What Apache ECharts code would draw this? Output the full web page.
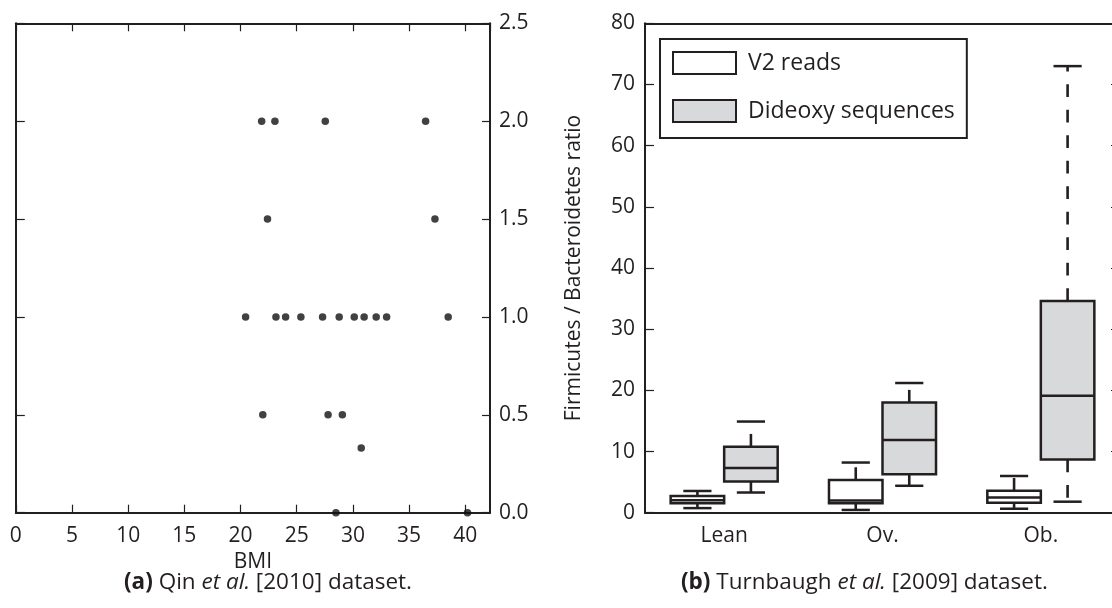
<!DOCTYPE html>
<html>
<head>
<meta charset="utf-8">
<script src="https://cdn.jsdelivr.net/npm/echarts@6/dist/echarts.min.js"></script>
<style>
  html, body { margin: 0; padding: 0; background: #ffffff; }
  #chart { width: 1112px; height: 608px; }
</style>
</head>
<body>
<div id="chart"></div>
<script>
// ---- Panel (a): Qin et al. 2010, F/B ratio against BMI ----
const bmiValues = [
  21.88, 23.06, 27.54, 36.47,
  22.4, 37.3,
  20.45, 23.15, 24.01, 25.37, 27.3, 28.78, 30.12, 31.0, 32.07, 33.0, 38.48,
  21.98, 27.79, 29.06,
  30.74,
  28.49, 40.2
];
const ratioValues = [
  2.0, 2.0, 2.0, 2.0,
  1.5, 1.5,
  1.0, 1.0, 1.0, 1.0, 1.0, 1.0, 1.0, 1.0, 1.0, 1.0, 1.0,
  0.5, 0.5, 0.5,
  0.33,
  0.0, 0.0
];

// ---- Panel (b): Turnbaugh et al. 2009, box plots per BMI class ----
const categories = ['Lean', 'Ov.', 'Ob.'];
const v2Low      = [0.75, 0.45, 0.65];
const v2Q1       = [1.55, 1.55, 1.62];
const v2Median   = [2.05, 2.0, 2.5];
const v2Q3       = [2.75, 5.35, 3.6];
const v2High     = [3.55, 8.2, 6.0];
const dideoxyLow    = [3.3, 4.4, 1.8];
const dideoxyQ1     = [5.1, 6.3, 8.7];
const dideoxyMedian = [7.3, 11.9, 19.1];
const dideoxyQ3     = [10.8, 18.0, 34.6];
const dideoxyHigh   = [14.9, 21.2, 73.0];

const INK = '#231f20';
const GRAY_FILL = '#d8d9da';
const FONT = '"Open Sans", "Noto Sans", sans-serif';
const FS = 21;
const CAPTION_FS = 22.5;
const BOX_WIDTH_FRAC = 0.338;
const CAP_WIDTH_FRAC = 0.178;

const scatterData = bmiValues.map((b, i) => [b, ratioValues[i]]);
function boxRows(low, q1, med, q3, high) {
  return categories.map((c, i) => [i, low[i], q1[i], med[i], q3[i], high[i]]);
}

// Draws one box-and-whisker per category; side = -1 (left of centre) or +1 (right).
function boxRenderer(side, fill) {
  return function (params, api) {
    const c = api.value(0);
    const band = api.size([1, 0])[0];
    const w = band * BOX_WIDTH_FRAC;
    const cap = band * CAP_WIDTH_FRAC;
    const cx = api.coord([c, 0])[0] + side * w / 2;
    const y = (k) => api.coord([c, api.value(k)])[1];
    const yLow = y(1), yQ1 = y(2), yMed = y(3), yQ3 = y(4), yHigh = y(5);
    const solid = { stroke: INK, lineWidth: 2.5 };
    const dashed = { stroke: INK, lineWidth: 2.6, lineDash: [12.7, 12.8] };
    return {
      type: 'group',
      children: [
        { type: 'line', shape: { x1: cx, y1: yQ3, x2: cx, y2: yHigh }, style: dashed },
        { type: 'line', shape: { x1: cx, y1: yQ1, x2: cx, y2: yLow }, style: dashed },
        { type: 'line', shape: { x1: cx - cap / 2, y1: yHigh, x2: cx + cap / 2, y2: yHigh }, style: solid },
        { type: 'line', shape: { x1: cx - cap / 2, y1: yLow, x2: cx + cap / 2, y2: yLow }, style: solid },
        { type: 'rect', shape: { x: cx - w / 2, y: yQ3, width: w, height: yQ1 - yQ3 },
          style: { fill: fill, stroke: INK, lineWidth: 2.5 } },
        { type: 'line', shape: { x1: cx - w / 2, y1: yMed, x2: cx + w / 2, y2: yMed }, style: solid }
      ]
    };
  };
}

const frameLine = { show: true, onZero: false, lineStyle: { color: INK, width: 2 } };
const innerTick = (len) => ({ show: true, inside: true, length: len, lineStyle: { color: INK, width: 1.2 } });
const labelStyle = { color: INK, fontFamily: FONT, fontSize: FS };
const captionStyle = {
  fontFamily: FONT, fontSize: CAPTION_FS, fontWeight: 'normal', color: INK,
  rich: {
    b: { fontFamily: FONT, fontSize: CAPTION_FS, fontWeight: 'bold', color: INK },
    i: { fontFamily: FONT, fontSize: CAPTION_FS, fontStyle: 'italic', color: INK }
  }
};

const option = {
  backgroundColor: '#ffffff',
  animation: false,
  textStyle: { fontFamily: FONT, color: INK },
  grid: [
    { left: 15.8, top: 23.3, width: 474.2, height: 489.4, outerBoundsMode: 'none', containLabel: false },
    { left: 645, top: 23.3, width: 475, height: 489.4, outerBoundsMode: 'none', containLabel: false }
  ],
  xAxis: [
    { type: 'value', gridIndex: 0, min: 0, max: 42.2, interval: 5, position: 'bottom',
      axisLine: frameLine, axisTick: innerTick(8), splitLine: { show: false },
      axisLabel: Object.assign({ margin: 13 }, labelStyle),
      name: 'BMI', nameLocation: 'middle', nameGap: 39, nameTextStyle: labelStyle },
    { type: 'value', gridIndex: 0, min: 0, max: 42.2, interval: 5, position: 'top',
      axisLine: frameLine, axisTick: innerTick(8), axisLabel: { show: false }, splitLine: { show: false } },
    { type: 'category', gridIndex: 1, data: categories, position: 'bottom',
      axisLine: frameLine, axisTick: { show: false }, splitLine: { show: false },
      axisLabel: Object.assign({ margin: 13 }, labelStyle) },
    { type: 'category', gridIndex: 1, data: categories, position: 'top',
      axisLine: frameLine, axisTick: { show: false }, axisLabel: { show: false }, splitLine: { show: false } }
  ],
  yAxis: [
    { type: 'value', gridIndex: 0, min: 0, max: 2.5, interval: 0.5, position: 'left',
      axisLine: frameLine, axisTick: innerTick(9), axisLabel: { show: false }, splitLine: { show: false } },
    { type: 'value', gridIndex: 0, min: 0, max: 2.5, interval: 0.5, position: 'right',
      axisLine: frameLine, axisTick: innerTick(8), splitLine: { show: false },
      axisLabel: Object.assign({ margin: 9, formatter: (v) => v.toFixed(1) }, labelStyle),
      name: 'Firmicutes / Bacteroidetes ratio', nameLocation: 'middle', nameGap: 74,
      nameTextStyle: labelStyle },
    { type: 'value', gridIndex: 1, min: 0, max: 80, interval: 10, position: 'left',
      axisLine: frameLine, axisTick: innerTick(9), splitLine: { show: false },
      axisLabel: Object.assign({ margin: 10 }, labelStyle) },
    { type: 'value', gridIndex: 1, min: 0, max: 80, interval: 10, position: 'right',
      axisLine: frameLine, axisTick: innerTick(9), axisLabel: { show: false }, splitLine: { show: false } }
  ],
  legend: {
    orient: 'vertical', left: 660, top: 39, selectedMode: false,
    borderColor: INK, borderWidth: 2, padding: [12, 12, 15, 12],
    itemWidth: 63, itemHeight: 22, itemGap: 24,
    textStyle: { color: INK, fontFamily: FONT, fontSize: 23, padding: [0, 0, 0, 7] },
    data: [
      { name: 'V2 reads', icon: 'rect', itemStyle: { color: '#ffffff', borderColor: INK, borderWidth: 2 } },
      { name: 'Dideoxy sequences', icon: 'rect', itemStyle: { color: GRAY_FILL, borderColor: INK, borderWidth: 2 } }
    ]
  },
  title: [
    { text: '{b|(a)} Qin {i|et al.} [2010] dataset.', left: 124, top: 571, padding: 0,
      textStyle: captionStyle },
    { text: '{b|(b)} Turnbaugh {i|et al.} [2009] dataset.', left: 681, top: 571, padding: 0,
      textStyle: captionStyle }
  ],
  series: [
    { type: 'scatter', name: 'Qin', xAxisIndex: 0, yAxisIndex: 0, data: scatterData,
      symbol: 'circle', symbolSize: 7.5, itemStyle: { color: '#111' }, clip: false, z: 5 },
    { type: 'custom', name: 'V2 reads', xAxisIndex: 2, yAxisIndex: 2,
      data: boxRows(v2Low, v2Q1, v2Median, v2Q3, v2High),
      encode: { x: 0, y: [1, 2, 3, 4, 5] },
      itemStyle: { color: '#ffffff', borderColor: INK },
      renderItem: boxRenderer(-1, '#ffffff') },
    { type: 'custom', name: 'Dideoxy sequences', xAxisIndex: 2, yAxisIndex: 2,
      data: boxRows(dideoxyLow, dideoxyQ1, dideoxyMedian, dideoxyQ3, dideoxyHigh),
      encode: { x: 0, y: [1, 2, 3, 4, 5] },
      itemStyle: { color: GRAY_FILL, borderColor: INK },
      renderItem: boxRenderer(1, GRAY_FILL) }
  ]
};

const chart = echarts.init(document.getElementById('chart'), null, { renderer: 'canvas' });
chart.setOption(option);
</script>
</body>
</html>
